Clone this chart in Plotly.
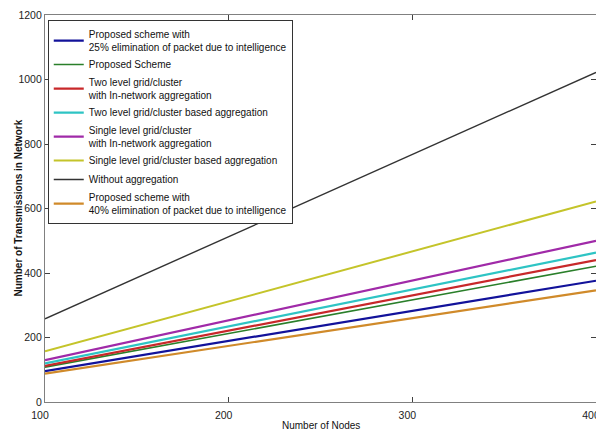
import plotly.graph_objects as go

nodes = [100, 400]
x_ticks = [100, 200, 300, 400]
y_ticks = [0, 200, 400, 600, 800, 1000, 1200]
names = [
    "Proposed scheme with<br>25% elimination of packet due to intelligence",
    "Proposed Scheme",
    "Two level grid/cluster<br>with In-network aggregation",
    "Two level grid/cluster based aggregation",
    "Single level grid/cluster<br>with In-network aggregation",
    "Single level grid/cluster based aggregation",
    "Without aggregation",
    "Proposed scheme with<br>40% elimination of packet due to intelligence",
]
proposed_25 = [96, 376]
proposed = [108, 421]
two_level_innet = [112, 440]
two_level = [120, 463]
single_innet = [130, 500]
single = [157, 622]
without = [258, 1022]
proposed_40 = [88, 346]
series = [proposed_25, proposed, two_level_innet, two_level, single_innet, single, without, proposed_40]
colors = ["#12129a", "#2a7f2a", "#c8282a", "#2ec4c4", "#a02aa8", "#c4c42a", "#333333", "#d08a2a"]
widths = [2.2, 1.6, 2.2, 2.2, 2.2, 2.0, 1.4, 2.2]

fig = go.Figure()
for n, s, c, w in zip(names, series, colors, widths):
    fig.add_trace(go.Scatter(x=nodes, y=s, mode="lines", name=n,
                             line=dict(color=c, width=w)))

narrow = "Liberation Sans Narrow, Arial Narrow, Liberation Sans, sans-serif"
axis_common = dict(showgrid=False, zeroline=False, showline=True, mirror="ticks",
                   linecolor="#808080", linewidth=1.2, ticks="inside", ticklen=5,
                   tickcolor="#404040", automargin=False, ticklabeloverflow="allow",
                   tickfont=dict(family=narrow, size=10.5, color="#222"))
# the page body has an 8px default margin, so the figure is drawn 8px in from the top-left
fig.update_layout(
    width=596, height=425,
    margin=dict(l=37, r=8, t=7, b=31),
    paper_bgcolor="white", plot_bgcolor="white",
    showlegend=True,
    legend=dict(x=0.005, y=0.987, xanchor="left", yanchor="top",
                bgcolor="white", bordercolor="#333", borderwidth=1,
                font=dict(family=narrow, size=10, color="#111"),
                itemwidth=30, tracegroupgap=0),
    xaxis=dict(range=[100, 400], tickvals=x_ticks, ticklabelstandoff=3,
               ticklabelshift=-5, **axis_common),
    yaxis=dict(range=[0, 1200], tickvals=y_ticks, **axis_common),
    annotations=[
        dict(text="Number of Nodes", xref="paper", yref="paper", x=0.5, y=0,
             xanchor="center", yanchor="middle", yshift=-23, showarrow=False,
             font=dict(family=narrow, size=10, color="#111")),
        dict(text="<b>Number of Transmissions in Network</b>", xref="paper", yref="paper",
             x=0, y=0.5, xanchor="center", yanchor="middle", xshift=-27, textangle=-90,
             showarrow=False, font=dict(family="Liberation Sans, Arial, sans-serif", size=10, color="#111")),
    ],
)
fig.write_html("out.html")
